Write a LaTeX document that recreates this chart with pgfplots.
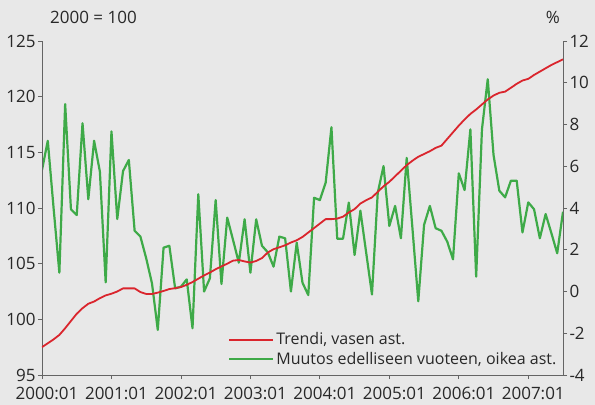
\documentclass[border=0pt]{standalone}
\usepackage{pgfplots}
\usepackage{pgfplotstable}
\pgfplotsset{compat=1.18}
\usepackage{fontspec}
\setmainfont{Open Sans}
\definecolor{bgc}{RGB}{232,232,232}
\definecolor{txt}{RGB}{40,40,40}
\definecolor{axc}{RGB}{100,100,100}
\definecolor{tred}{RGB}{218,37,45}
\definecolor{tgreen}{RGB}{62,170,72}

\pgfplotstableread{
m v
0 97.5
1 97.85
2 98.2
3 98.6
4 99.2
5 99.85
6 100.5
7 101.0
8 101.4
9 101.6
10 101.9
11 102.15
12 102.3
13 102.5
14 102.78
15 102.78
16 102.78
17 102.45
18 102.28
19 102.28
20 102.4
21 102.55
22 102.72
23 102.8
24 102.9
25 103.1
26 103.35
27 103.65
28 103.95
29 104.2
30 104.5
31 104.75
32 105.0
33 105.27
34 105.33
35 105.2
36 105.1
37 105.24
38 105.5
39 106.0
40 106.3
41 106.47
42 106.65
43 106.9
44 107.1
45 107.4
46 107.8
47 108.2
48 108.6
49 109.0
50 109.0
51 109.05
52 109.22
53 109.6
54 109.9
55 110.4
56 110.7
57 110.95
58 111.45
59 111.95
60 112.35
61 112.85
62 113.35
63 113.85
64 114.25
65 114.6
66 114.85
67 115.1
68 115.4
69 115.6
70 116.2
71 116.8
72 117.4
73 117.95
74 118.45
75 118.85
76 119.3
77 119.75
78 120.1
79 120.35
80 120.45
81 120.8
82 121.15
83 121.45
84 121.6
85 121.95
86 122.25
87 122.55
88 122.85
89 123.1
90 123.36
}\trend

\pgfplotstableread{
m v
0 5.82
1 7.22
2 4.0
3 0.90
4 8.98
5 3.94
6 3.66
7 8.06
8 4.42
9 7.22
10 5.74
11 0.44
12 7.67
13 3.47
14 5.77
15 6.30
16 2.91
17 2.63
18 1.59
19 0.39
20 -1.84
21 2.10
22 2.19
23 0.15
24 0.23
25 0.58
26 -1.76
27 4.66
28 0.0
29 0.63
30 4.38
31 0.36
32 3.54
33 2.47
34 1.38
35 3.46
36 0.90
37 3.46
38 2.19
39 1.88
40 1.19
41 2.63
42 2.55
43 0.0
44 2.34
45 0.42
46 -0.17
47 4.49
48 4.38
49 5.21
50 7.87
51 2.53
52 2.53
53 4.26
54 1.75
55 3.87
56 1.86
57 -0.14
58 4.73
59 6.01
60 3.14
61 4.10
62 2.55
63 6.40
64 3.0
65 -0.47
66 3.19
67 4.10
68 3.03
69 2.91
70 2.39
71 1.54
72 5.66
73 4.86
74 7.77
75 0.71
76 7.77
77 10.17
78 6.54
79 4.83
80 4.51
81 5.31
82 5.31
83 2.83
84 4.27
85 3.94
86 2.55
87 3.71
88 2.79
89 1.83
90 3.82
}\change

\begin{document}
\begin{tikzpicture}
\fill[bgc] (-42bp,-30bp) rectangle (553bp,375bp);
\useasboundingbox (-42bp,-30bp) rectangle (553bp,375bp);
\pgfplotsset{base/.style={scale only axis, width=521bp, height=334bp,
  at={(0,0)}, anchor=south west, xmin=0, xmax=90, enlargelimits=false,
  tick align=outside, major tick length=4bp,
  axis line style={axc, line width=0.9bp},
  every tick/.style={axc, line width=0.8bp},
  tick label style={font=\fontsize{17bp}{20bp}\selectfont, text=txt},
  /pgf/number format/assume math mode=true}}
\begin{axis}[base, axis y line*=right, axis x line=none, ymin=-4, ymax=12,
  ytick={-4,-2,...,12}, yticklabel style={xshift=-1bp}]
\addplot[tgreen, line width=2.2bp, line join=round] table[x=m,y=v]{\change};
\end{axis}
\begin{axis}[base, axis y line*=left, axis x line*=bottom, ymin=95, ymax=125,
  ytick={95,100,...,125},
  yticklabel style={xshift=1bp},
  xtick={0,12,...,84},
  xticklabels={2000:01,2001:01,2002:01,2003:01,2004:01,2005:01,2006:01,2007:01},
  xticklabel style={xshift=5bp, yshift=-5bp},
  legend style={at={(0.357,0.02)}, anchor=south west, draw=none, fill=none,
    inner sep=0pt, row sep=2bp, font=\fontsize{16bp}{19bp}\selectfont,
    text=txt, nodes={inner sep=2bp}},
  legend cell align=left,
  legend image code/.code={\draw[#1] (0bp,0bp) -- (44bp,0bp);}]
\addplot[tred, line width=1.8bp, line join=round] table[x=m,y=v]{\trend};
\addlegendentry{Trendi, vasen ast.}
\addlegendimage{tgreen, line width=2.2bp}
\addlegendentry{Muutos edelliseen vuoteen, oikea ast.}
\end{axis}
\node[anchor=base west, font=\fontsize{17bp}{20bp}\selectfont, text=txt, inner sep=0pt] at (8bp,351bp) {2000 = 100};
\node[anchor=base east, font=\fontsize{17bp}{20bp}\selectfont, text=txt, inner sep=0pt] at (518bp,351bp) {\%};
\end{tikzpicture}
\end{document}
